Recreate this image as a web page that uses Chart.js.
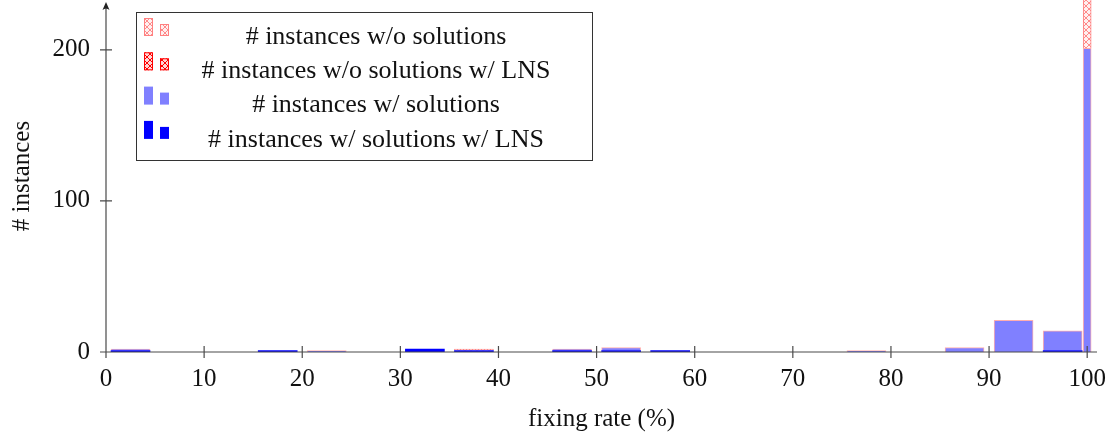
<!DOCTYPE html>
<html lang="en">
<head>
  <meta charset="UTF-8">
  <title>Fixing rate histogram</title>
  <style>
    html, body {
      margin: 0;
      padding: 0;
      background: #fff;
    }
    #wrap {
      width: 1115px;
      height: 435px;
    }
  </style>
</head>
<body>
  <div id="wrap"><canvas id="histChart" width="1115" height="435"></canvas></div>

  <script src="https://cdn.jsdelivr.net/npm/chart.js"></script>
  <script>
    // bin centres: 5% bins, then the separate 100% bin at the end
    const binCenters = [2.5, 7.5, 12.5, 17.5, 22.5, 27.5, 32.5, 37.5, 42.5, 47.5,
                        52.5, 57.5, 62.5, 67.5, 72.5, 77.5, 82.5, 87.5, 92.5, 97.5, 100];

    // stacked counts, bottom to top
    const withSolLNS    = [1, 0, 0, 1, 0, 0, 2, 1, 0, 1, 1, 1, 0, 0, 0, 0, 0, 0, 0, 1, 0];
    const withSol       = [1, 0, 0, 0, 1, 0, 0, 0, 0, 1, 2, 0, 0, 0, 0, 1, 0, 3, 21, 13, 201];
    const withoutSolLNS = [0, 0, 0, 0, 0, 0, 0, 0, 0, 0, 0, 0, 0, 0, 0, 0, 0, 0, 0, 0, 0];
    const withoutSol    = [0, 0, 0, 0, 0, 0, 0, 1, 0, 0, 0, 0, 0, 0, 0, 0, 0, 0, 0, 0, 35];

    const xTicks = [0, 10, 20, 30, 40, 50, 60, 70, 80, 90, 100];
    const yTicks = [0, 100, 200];

    const FONT = '"Liberation Serif", "DejaVu Serif", serif';

    // crosshatch fill like the pgfplots pattern
    function hatch(bg, line) {
      const c = document.createElement('canvas');
      c.width = 6;
      c.height = 6;
      const g = c.getContext('2d');
      g.fillStyle = bg;
      g.fillRect(0, 0, 6, 6);
      g.strokeStyle = line;
      g.lineWidth = 1;
      g.beginPath();
      g.moveTo(0, 0); g.lineTo(6, 6);
      g.moveTo(6, 0); g.lineTo(0, 6);
      g.stroke();
      return g.createPattern(c, 'repeat');
    }

    const series = [
      { label: '# instances w/ solutions w/ LNS', values: withSolLNS,
        fill: '#0000ff', border: '#0000ff', bw: 0 },
      { label: '# instances w/ solutions', values: withSol,
        fill: '#8080ff', border: 'rgba(255,120,120,0.6)', bw: 1 },
      { label: '# instances w/o solutions w/ LNS', values: withoutSolLNS,
        fill: hatch('#ffd6d6', '#ff0000'), border: '#ff0000', bw: 1 },
      { label: '# instances w/o solutions', values: withoutSol,
        fill: hatch('#fff0f0', '#ff8a8a'), border: '#ff8080', bw: 1 }
    ];

    // wide bars for the 5% bins, a narrow one for the 100% bin
    const datasets = [];
    series.forEach(s => {
      const last = binCenters.length - 1;
      [false, true].forEach(narrow => {
        const pts = binCenters
          .map((x, i) => ({ x: x, y: s.values[i], i: i }))
          .filter(p => (narrow ? p.i === last : p.i < last) && p.y > 0);
        datasets.push({
          label: s.label,
          data: pts,
          backgroundColor: s.fill,
          borderColor: s.border,
          borderWidth: s.bw,
          barThickness: narrow ? 8 : 39,
          borderSkipped: 'bottom',
          clip: 0
        });
      });
    });

    const axisDecor = {
      id: 'axisDecor',
      afterDatasetsDraw(chart) {
        const { ctx, chartArea: a, scales: { x, y } } = chart;
        ctx.save();
        ctx.strokeStyle = '#4a4a4a';
        ctx.lineWidth = 1.2;
        ctx.beginPath();
        ctx.moveTo(a.left, a.bottom); ctx.lineTo(a.right, a.bottom);
        ctx.moveTo(a.left, a.bottom); ctx.lineTo(a.left, a.top + 5);
        x.ticks.forEach(t => {
          const px = x.getPixelForValue(t.value);
          ctx.moveTo(px, a.bottom - 6); ctx.lineTo(px, a.bottom + 6);
        });
        y.ticks.forEach(t => {
          const py = y.getPixelForValue(t.value);
          ctx.moveTo(a.left - 6, py); ctx.lineTo(a.left + 6, py);
        });
        ctx.stroke();
        // arrow tip of the y axis
        ctx.fillStyle = '#222';
        ctx.beginPath();
        ctx.moveTo(a.left, a.top + 2);
        ctx.lineTo(a.left - 3.5, a.top + 10);
        ctx.quadraticCurveTo(a.left, a.top + 7, a.left + 3.5, a.top + 10);
        ctx.closePath();
        ctx.fill();
        ctx.restore();
      }
    };

    const insideLegend = {
      id: 'insideLegend',
      afterDraw(chart) {
        const { ctx, chartArea: a } = chart;
        const bx = a.left + 30, by = a.top + 12, bw = 456, bh = 148;
        ctx.save();
        ctx.fillStyle = '#fff';
        ctx.fillRect(bx, by, bw, bh);
        ctx.strokeStyle = '#333';
        ctx.lineWidth = 1;
        ctx.strokeRect(bx + 0.5, by + 0.5, bw, bh);
        ctx.font = '26px ' + FONT;
        ctx.textAlign = 'center';
        ctx.textBaseline = 'middle';
        series.slice().reverse().forEach((s, i) => {
          const base = by + 24 + i * 34.3;
          ctx.fillStyle = s.fill;
          ctx.fillRect(bx + 8, base - 18, 9, 18);
          ctx.fillRect(bx + 24, base - 12, 9, 12);
          if (s.label.indexOf('w/o') >= 0) {
            ctx.strokeStyle = s.border;
            ctx.strokeRect(bx + 8.5, base - 17.5, 8, 17);
            ctx.strokeRect(bx + 24.5, base - 11.5, 8, 11);
          }
          ctx.fillStyle = '#111';
          ctx.fillText(s.label, bx + 240, base + 1);
        });
        ctx.restore();
      }
    };

    new Chart(document.getElementById('histChart'), {
      type: 'bar',
      data: { datasets: datasets },
      plugins: [axisDecor, insideLegend],
      options: {
        responsive: false,
        animation: false,
        devicePixelRatio: 1,
        layout: { padding: { top: 0, right: 18, left: 0, bottom: 0 } },
        plugins: {
          legend: { display: false },
          tooltip: { enabled: false }
        },
        scales: {
          x: {
            type: 'linear',
            min: 0,
            max: 101,
            stacked: true,
            offset: false,
            grid: { display: false, drawTicks: false, offset: false },
            border: { display: false },
            afterBuildTicks: s => { s.ticks = xTicks.map(v => ({ value: v })); },
            afterFit: s => { s.height = 83; s.paddingLeft = 0; s.paddingRight = 0; },
            ticks: {
              autoSkip: false,
              maxRotation: 0,
              padding: 12,
              color: '#111',
              font: { family: FONT, size: 25 }
            },
            title: {
              display: true,
              text: 'fixing rate (%)',
              color: '#111',
              font: { family: FONT, size: 25 },
              padding: { top: 0, bottom: 1 }
            }
          },
          y: {
            min: 0,
            max: 233,
            stacked: true,
            grid: { display: false, drawTicks: false },
            border: { display: false },
            afterBuildTicks: s => { s.ticks = yTicks.map(v => ({ value: v })); },
            afterFit: s => { s.width = 106; s.paddingTop = 0; s.paddingBottom = 0; },
            ticks: {
              padding: 16,
              color: '#111',
              font: { family: FONT, size: 25 }
            },
            title: {
              display: true,
              text: '# instances',
              color: '#111',
              font: { family: FONT, size: 25 },
              padding: { top: 7, bottom: 0 }
            }
          }
        }
      }
    });
  </script>
</body>
</html>
